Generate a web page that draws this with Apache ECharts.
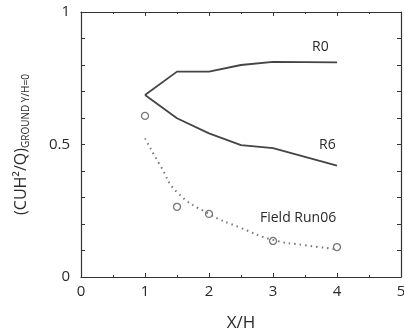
<!DOCTYPE html>
<html>
<head>
<meta charset="utf-8">
<script src="https://cdn.jsdelivr.net/npm/echarts@6/dist/echarts.min.js"></script>
<style>
  html, body { margin: 0; padding: 0; background: #fff; }
  #chart { width: 404px; height: 331px; }
</style>
</head>
<body>
<div id="chart"></div>
<script>
// X/H positions
var xR = [1, 1.5, 2, 2.5, 3, 4]
// wind tunnel curves
var r0 = [0.687, 0.775, 0.775, 0.8, 0.812, 0.81]
var r6 = [0.687, 0.599, 0.542, 0.498, 0.486, 0.42]
// field measurements
var xField = [1, 1.5, 2, 3, 4]
var field = [0.608, 0.265, 0.238, 0.136, 0.113]
// fitted dotted curve
var xFit = [1, 1.25, 1.5, 2, 2.5, 3, 3.5, 4]
var fit = [0.523, 0.416, 0.32, 0.238, 0.185, 0.14, 0.12, 0.105]

function pairs(xs, ys) {
  return xs.map(function (x, i) { return [x, ys[i]] })
}

var lineCol = '#444'
var txtCol = '#2a2a2a'
var font = 'Open Sans'

var chart = echarts.init(document.getElementById('chart'))

var axisBase = {
  type: 'value',
  axisLine: { show: true, onZero: false, lineStyle: { color: '#333', width: 1.2 } },
  splitLine: { show: false },
  axisTick: { inside: true, length: 4, lineStyle: { color: '#333' } }
}

chart.setOption({
  animation: false,
  grid: { left: 81, right: 3, top: 12, bottom: 54, containLabel: false, outerBoundsMode: 'none' },
  xAxis: [
    Object.assign({}, axisBase, {
      min: 0, max: 5, interval: 1,
      minorTick: { show: true, splitNumber: 2, length: 2, lineStyle: { color: '#333' } },
      axisLabel: { color: txtCol, fontSize: 15, margin: 7, fontFamily: font },
      name: 'X/H', nameLocation: 'middle', nameGap: 38,
      nameTextStyle: { color: txtCol, fontSize: 17, fontFamily: font }
    }),
    Object.assign({}, axisBase, {
      min: 0, max: 5, interval: 1, position: 'top',
      minorTick: { show: true, splitNumber: 2, length: 2, lineStyle: { color: '#333' } },
      axisLabel: { show: false }
    })
  ],
  yAxis: [
    Object.assign({}, axisBase, {
      min: 0, max: 1, interval: 0.5,
      minorTick: { show: true, splitNumber: 5, length: 4, lineStyle: { color: '#333' } },
      axisLabel: { color: txtCol, fontSize: 15, margin: 11, fontFamily: font },
      name: '{a|(CUH²/Q)}{b|GROUND Y/H=0}', nameLocation: 'middle', nameGap: 50,
      nameRotate: 90,
      nameTextStyle: {
        color: txtCol,
        rich: {
          a: { fontSize: 16, color: txtCol, fontFamily: font },
          b: { fontSize: 10, color: txtCol, fontFamily: font, verticalAlign: 'bottom', padding: [9, 0, 0, 0] }
        }
      }
    }),
    Object.assign({}, axisBase, {
      min: 0, max: 1, interval: 0.5, position: 'right',
      minorTick: { show: true, splitNumber: 5, length: 4, lineStyle: { color: '#333' } },
      axisLabel: { show: false }
    })
  ],
  graphic: [
    { type: 'text', left: 312, top: 40, style: { text: 'R0', fontSize: 14, fill: txtCol, fontFamily: font } },
    { type: 'text', left: 319, top: 138, style: { text: 'R6', fontSize: 14, fill: txtCol, fontFamily: font } },
    { type: 'text', left: 260, top: 211, style: { text: 'Field Run06', fontSize: 14, fill: txtCol, fontFamily: font } }
  ],
  series: [
    {
      type: 'line', data: pairs(xR, r0), symbol: 'none',
      lineStyle: { color: lineCol, width: 1.8 }
    },
    {
      type: 'line', data: pairs(xR, r6), symbol: 'none',
      lineStyle: { color: lineCol, width: 1.8 }
    },
    {
      type: 'line', data: pairs(xFit, fit), symbol: 'none', smooth: true,
      lineStyle: { color: '#777', width: 2, type: [1.5, 4] }
    },
    {
      type: 'scatter', data: pairs(xField, field), symbol: 'circle', symbolSize: 7,
      itemStyle: { color: '#fff', borderColor: '#555', borderWidth: 1.3 }
    }
  ]
})
</script>
</body>
</html>
